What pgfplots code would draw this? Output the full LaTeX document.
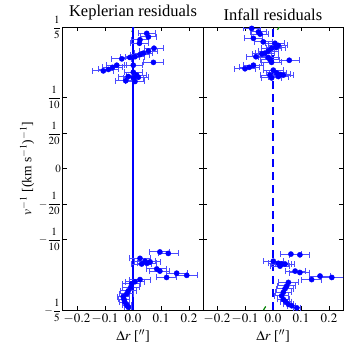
\documentclass[border=0pt]{standalone}
\usepackage{amsmath}
\usepackage{mathptmx}
\usepackage{fontspec}
\setmainfont{Liberation Serif}
\usepackage{pgfplots}
\pgfplotsset{compat=1.18}
\usepackage{pgfplotstable}

% upper and lower clusters, Keplerian residuals
\pgfplotstableread{
x y ex
0.049 0.191 0.030
0.055 0.186 0.030
0.025 0.182 0.032
0.023 0.177 0.032
0.075 0.170 0.035
0.055 0.166 0.033
0.037 0.163 0.033
0.025 0.161 0.035
0.007 0.158 0.035
-0.011 0.157 0.035
-0.040 0.155 0.036
0.073 0.150 0.036
-0.058 0.146 0.036
-0.073 0.143 0.036
-0.088 0.140 0.037
-0.106 0.138 0.038
0.001 0.146 0.033
0.001 0.136 0.033
0.001 0.128 0.035
0.013 0.132 0.035
-0.017 0.130 0.035
0.019 0.129 0.035
-0.026 0.124 0.036
0.007 0.123 0.035
0.096 -0.118 0.036
0.126 -0.120 0.036
0.025 -0.127 0.036
0.043 -0.131 0.036
0.061 -0.132 0.036
0.031 -0.135 0.035
0.050 -0.134 0.035
0.085 -0.142 0.036
0.096 -0.145 0.036
0.156 -0.148 0.038
0.192 -0.151 0.040
0.120 -0.154 0.036
0.025 -0.157 0.036
0.007 -0.160 0.035
-0.005 -0.163 0.033
-0.008 -0.168 0.030
-0.017 -0.173 0.028
-0.022 -0.177 0.025
-0.035 -0.181 0.022
-0.032 -0.185 0.020
-0.029 -0.189 0.018
-0.022 -0.193 0.015
-0.017 -0.196 0.012
}\kepler

% same for infall residuals
\pgfplotstableread{
x y ex
-0.076 0.198 0.030
-0.052 0.193 0.030
-0.046 0.190 0.030
-0.070 0.184 0.032
-0.035 0.179 0.032
0.007 0.177 0.034
0.019 0.174 0.034
0.011 0.171 0.034
-0.005 0.170 0.035
-0.017 0.166 0.035
-0.029 0.163 0.035
-0.040 0.162 0.035
-0.061 0.158 0.035
-0.017 0.157 0.035
-0.011 0.154 0.035
0.058 0.153 0.036
-0.005 0.150 0.035
-0.070 0.146 0.036
-0.085 0.143 0.036
-0.100 0.141 0.037
0.001 0.139 0.035
0.013 0.135 0.035
0.025 0.133 0.036
0.037 0.132 0.036
-0.011 0.132 0.035
-0.005 0.128 0.035
0.019 0.130 0.035
0.064 -0.121 0.036
0.096 -0.122 0.036
0.001 -0.131 0.036
0.019 -0.134 0.036
0.031 -0.135 0.035
0.043 -0.135 0.035
0.025 -0.138 0.035
0.079 -0.145 0.036
0.096 -0.147 0.036
0.168 -0.152 0.038
0.210 -0.154 0.040
0.138 -0.157 0.036
0.055 -0.161 0.035
0.049 -0.166 0.033
0.043 -0.170 0.030
0.037 -0.175 0.028
0.031 -0.180 0.025
0.037 -0.185 0.022
0.045 -0.188 0.020
0.055 -0.192 0.018
0.067 -0.194 0.015
0.085 -0.197 0.012
}\infall

\newcommand{\fr}[2]{\genfrac{}{}{0.5pt}{0}{#1}{#2}}

\pgfplotsset{
  resid/.style={
    scale only axis, width=140pt, height=283pt,
    xmin=-0.25, xmax=0.25, ymin=-0.2, ymax=0.2,
    axis line style={line width=1pt},
    tick align=inside, major tick length=4pt,
    tick style={black, line width=0.6pt},
    xtick={-0.2,-0.1,0,0.1,0.2},
    xticklabels={$-0.2$,$-0.1$,$0.0$,$0.1$,$0.2$},
    ytick={-0.2,-0.1,-0.05,0,0.05,0.1,0.2},
    tick label style={font=\fontsize{13}{15}\selectfont},
    yticklabel style={font=\fontsize{11}{13}\selectfont, inner sep=2pt},
    xticklabel style={inner sep=1pt, yshift=-3pt},
    title style={font=\fontsize{16.5}{18}\selectfont, yshift=-3pt},
    xlabel={$\Delta r$ [$''$]},
    xlabel style={font=\fontsize{14}{16}\selectfont, yshift=-1pt},
    clip=true,
  },
  pts/.style={blue, only marks, mark=*, mark size=2.6pt,
    error bars/.cd, x dir=both, x explicit,
    error bar style={blue!70, line width=1pt},
    error mark options={rotate=90, blue!70, mark size=3pt, line width=1pt}},
}

\begin{document}
\begin{tikzpicture}
\useasboundingbox (-63pt,-39pt) rectangle (290pt,310pt);
\begin{axis}[resid, at={(0,0)},
  title={Keplerian residuals},
  yticklabels={$-\fr{1}{5}$,$-\fr{1}{10}$,$-\fr{1}{20}$,$0$,$\fr{1}{20}$,$\fr{1}{10}$,$\fr{1}{5}$},
  ylabel={$v^{-1}$ [(km s$^{-1}$)$^{-1}$]},
  ylabel style={font=\fontsize{13.5}{15}\selectfont, yshift=-1pt},
]
\addplot[green!50!black, line width=1.2pt] coordinates {(-0.004,0.193) (0.004,0.2)};
\addplot[green!50!black, line width=1.2pt] coordinates {(-0.014,-0.2) (-0.006,-0.194)};
\addplot[blue, line width=2pt] coordinates {(0,-0.2) (0,0.2)};
\addplot[pts] table[x=x, y=y, x error=ex] {\kepler};
\end{axis}
\begin{axis}[resid, at={(140pt,0)},
  title={Infall residuals},
  yticklabels={},
]
\addplot[green!50!black, line width=1.2pt] coordinates {(0.016,0.196) (0.022,0.2)};
\addplot[green!50!black, line width=1.2pt] coordinates {(-0.034,-0.2) (-0.026,-0.195)};
\addplot[blue, line width=2.4pt, dash pattern=on 8pt off 5pt] coordinates {(0,-0.2) (0,0.2)};
\addplot[pts] table[x=x, y=y, x error=ex] {\infall};
\end{axis}
\end{tikzpicture}
\end{document}
